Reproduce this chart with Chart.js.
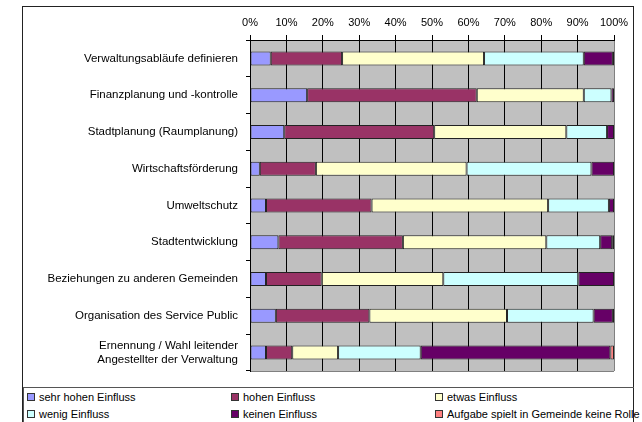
<!DOCTYPE html>
<html>
<head>
<meta charset="utf-8">
<script src="https://cdn.jsdelivr.net/npm/chart.js@4/dist/chart.umd.min.js"></script>
<style>
  body { margin: 0; background: #fff; font-family: "Liberation Sans", Arial, sans-serif; }
  #wrap { position: relative; width: 642px; height: 422px; overflow: hidden; }
  #frame { position: absolute; left: 22px; top: 6px; width: 610px; height: 440px; border: 1px solid #222; }
  #chart { position: absolute; left: 0; top: 0; }
  #legend { position: absolute; left: 23px; top: 387px; width: 610px; height: 40px; border-top: 1px solid #555; border-left: 1px solid #555; }
  .item { position: absolute; font-size: 11px; color: #000; white-space: nowrap; line-height: 13px; }
  .item span.box { display: inline-block; width: 6px; height: 6px; border: 1px solid #333; margin-right: 4px; vertical-align: 0px; }
</style>
</head>
<body>
<div id="wrap">
  <div id="frame"></div>
  <canvas id="chart" width="642" height="387"></canvas>
  <div id="legend"></div>
</div>
<script>
// categories (top to bottom)
var categories = [
  "Verwaltungsabläufe definieren",
  "Finanzplanung und -kontrolle",
  "Stadtplanung (Raumplanung)",
  "Wirtschaftsförderung",
  "Umweltschutz",
  "Stadtentwicklung",
  "Beziehungen zu anderen Gemeinden",
  "Organisation des Service Public",
  ["Ernennung / Wahl leitender", "Angestellter der Verwaltung"]
];

// percent values per answer
var sehrHohen  = [5.7, 15.7, 9.4, 2.7, 4.4, 7.8, 4.4, 7.1, 4.4];
var hohen      = [19.6, 46.6, 41.2, 15.4, 29.0, 34.2, 15.3, 25.7, 7.2];
var etwas      = [39.0, 29.4, 36.3, 41.4, 48.5, 39.4, 33.4, 37.8, 12.6];
var wenig      = [27.4, 7.6, 11.2, 34.3, 16.7, 14.8, 37.1, 23.8, 22.7];
var keinen     = [8.0, 0.7, 1.9, 6.2, 1.4, 3.3, 9.8, 5.3, 52.1];
var keineRolle = [0.3, 0, 0, 0, 0, 0.5, 0, 0.3, 1.0];

var seriesNames = ["sehr hohen Einfluss", "hohen Einfluss", "etwas Einfluss",
                   "wenig Einfluss", "keinen Einfluss", "Aufgabe spielt in Gemeinde keine Rolle"];
var xTicks = [0, 10, 20, 30, 40, 50, 60, 70, 80, 90, 100];

var colors = ["#9999FF", "#993366", "#FFFFCC", "#CCFFFF", "#660066", "#FF8080"];
var seriesData = [sehrHohen, hohen, etwas, wenig, keinen, keineRolle];

var datasets = seriesData.map(function (d, i) {
  return {
    label: seriesNames[i],
    data: d,
    backgroundColor: colors[i],
    borderColor: "#222",
    borderWidth: 1,
    borderSkipped: false,
    barPercentage: 0.38,
    categoryPercentage: 1
  };
});

// gray plot background
var plotBg = {
  id: "plotBg",
  beforeDraw: function (chart) {
    var a = chart.chartArea, ctx = chart.ctx;
    ctx.save();
    ctx.fillStyle = "#C0C0C0";
    ctx.fillRect(a.left, a.top, a.right - a.left, a.bottom - a.top);
    ctx.strokeStyle = "#808080";
    ctx.lineWidth = 1;
    ctx.beginPath();
    ctx.moveTo(a.left, a.bottom + 0.5);
    ctx.lineTo(a.right, a.bottom + 0.5);
    ctx.stroke();
    ctx.restore();
  }
};

var font = "'Liberation Sans', Arial, sans-serif";

var chart = new Chart(document.getElementById("chart"), {
  type: "bar",
  data: { labels: categories, datasets: datasets },
  options: {
    indexAxis: "y",
    responsive: false,
    animation: false,
    layout: { padding: { left: 30, top: 6, right: 28, bottom: 16 } },
    plugins: { legend: { display: false }, tooltip: { enabled: false } },
    scales: {
      x: {
        position: "top",
        stacked: true,
        min: 0,
        max: 100,
        afterBuildTicks: function (s) { s.ticks = xTicks.map(function (v) { return { value: v }; }); },
        afterFit: function (s) { s.height = 34; },
        ticks: {
          callback: function (v) { return v + "%"; },
          color: "#000",
          padding: 5,
          maxRotation: 0,
          font: { family: font, size: 11 }
        },
        grid: {
          color: function (c) { return c.tick && c.tick.value === 100 ? "#808080" : "#000"; },
          tickColor: "#000",
          tickLength: 5,
          lineWidth: 1
        },
        border: { display: true, color: "#000" }
      },
      y: {
        stacked: true,
        afterFit: function (s) { s.width = 220; },
        ticks: {
          color: "#000",
          padding: 8,
          font: { family: font, size: 11.5 }
        },
        grid: {
          offset: true,
          drawOnChartArea: false,
          tickLength: 4,
          tickColor: "#000"
        },
        border: { display: true, color: "#000" }
      }
    }
  },
  plugins: [plotBg]
});

// legend in three columns like the original
var legend = document.getElementById("legend");
chart.data.datasets.forEach(function (ds, i) {
  var el = document.createElement("div");
  el.className = "item";
  el.style.left = (3 + (i % 3) * 204) + "px";
  el.style.top = (3 + Math.floor(i / 3) * 17) + "px";
  el.innerHTML = '<span class="box" style="background:' + ds.backgroundColor + '"></span>' + ds.label;
  legend.appendChild(el);
});
</script>
</body>
</html>
